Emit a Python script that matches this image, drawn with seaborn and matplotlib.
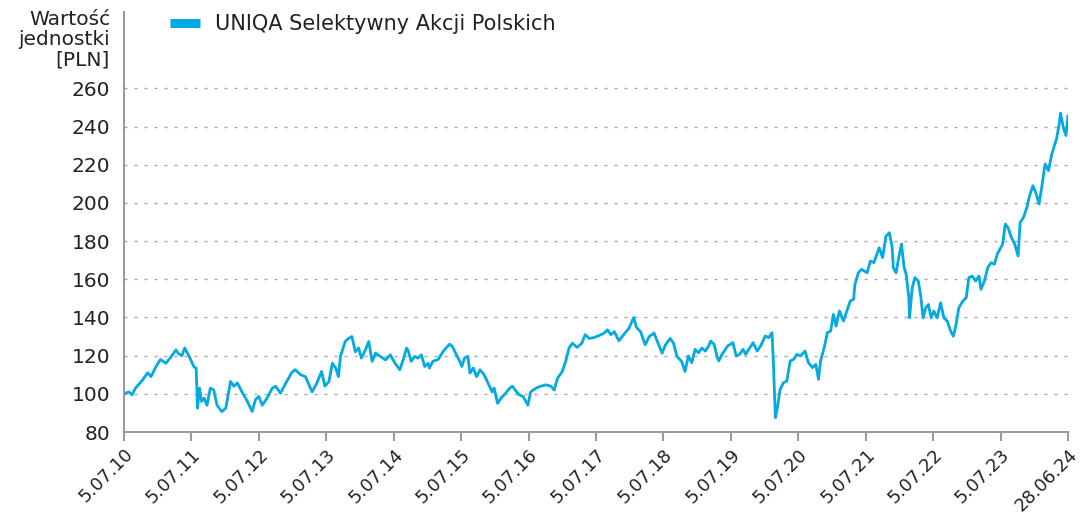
import numpy as np
import pandas as pd
import matplotlib
matplotlib.use('Agg')
import matplotlib.pyplot as plt
import seaborn as sns

# years since 5.07.2010
years_a = [0.00, 0.07, 0.12, 0.17, 0.27, 0.35, 0.40, 0.47, 0.54, 0.62,
           0.69, 0.77, 0.81, 0.86, 0.90, 0.96, 1.04, 1.07, 1.09, 1.12,
           1.15, 1.19, 1.23, 1.28, 1.33, 1.38, 1.45, 1.51, 1.58, 1.63,
           1.68, 1.75, 1.83, 1.90, 1.95, 2.00, 2.05, 2.12, 2.20, 2.25,
           2.32, 2.40, 2.49, 2.54, 2.62, 2.69, 2.79, 2.86, 2.93, 2.98,
           3.04, 3.09, 3.14, 3.18, 3.21, 3.28, 3.33, 3.38, 3.43, 3.48,
           3.52, 3.58, 3.63, 3.68, 3.73, 3.80, 3.88, 3.95, 4.02, 4.09]
values_a = [100, 101, 99.5, 103, 107, 111, 109, 114, 118, 116,
            119, 123, 121, 120, 124, 120, 114, 113.5, 92.5, 103,
            96, 97.7, 94, 103, 102, 94, 90.7, 92.5, 106.5, 104,
            105.7, 101, 96, 90.7, 97, 98.6, 94, 97.7, 103, 104,
            100.3, 105.6, 111.3, 112.6, 110, 109, 101, 105.6, 111.7, 104,
            106.5, 116, 113.5, 109, 119.6, 127.4, 129, 130, 122, 124,
            118.7, 123, 127.4, 117, 121.3, 119.6, 117.8, 120.4, 116, 112.6]

years_b = [4.14, 4.19, 4.21, 4.26, 4.31, 4.36, 4.41, 4.46, 4.51, 4.53,
           4.58, 4.66, 4.70, 4.75, 4.83, 4.87, 4.93, 4.98, 5.01, 5.05,
           5.10, 5.13, 5.18, 5.23, 5.28, 5.34, 5.41, 5.46, 5.49, 5.54,
           5.59, 5.66, 5.71, 5.76, 5.81, 5.86, 5.92, 5.99, 6.03, 6.11,
           6.18, 6.26, 6.33, 6.38, 6.43, 6.50, 6.55, 6.60, 6.65, 6.72,
           6.79, 6.84, 6.90, 6.97, 7.04, 7.12, 7.17, 7.22, 7.27, 7.34,
           7.41, 7.49, 7.56, 7.60, 7.66, 7.73, 7.79, 7.86, 7.91, 7.98,
           8.03, 8.10, 8.15, 8.20, 8.27, 8.32]
values_b = [117.8, 124, 123, 117, 119.6, 118.7, 120.4, 114.3, 116, 113.5,
            117, 118, 120.4, 123, 126, 124.8, 120.4, 117, 114.3, 118.7,
            119.6, 110.8, 113.5, 109, 112.6, 110, 104.7, 101, 103, 95,
            97.7, 100.3, 102.6, 104, 101.6, 99.5, 98.6, 94, 101, 103,
            104, 104.7, 104, 102, 108.2, 111.7, 117, 124, 126.5, 124.3,
            126.5, 131, 129, 129.5, 130.4, 131.8, 133.5, 131, 132.6, 127.8,
            131, 134.4, 140, 134.8, 132.6, 125.7, 130, 131.8, 127.4, 121.3,
            125.7, 129, 126.5, 119.6, 117, 111.7]

years_c = [8.37, 8.42, 8.47, 8.52, 8.57, 8.62, 8.67, 8.70, 8.75, 8.80,
           8.82, 8.87, 8.95, 9.03, 9.08, 9.13, 9.18, 9.22, 9.28, 9.33,
           9.39, 9.44, 9.51, 9.56, 9.61, 9.63, 9.66, 9.69, 9.73, 9.78,
           9.83, 9.88, 9.93, 9.98, 10.03, 10.10, 10.15, 10.21, 10.26, 10.30,
           10.33, 10.39, 10.43, 10.48, 10.52, 10.56, 10.61, 10.67, 10.72, 10.77,
           10.82, 10.84, 10.89, 10.94, 11.02, 11.07, 11.12, 11.20, 11.25, 11.30,
           11.35, 11.39, 11.41, 11.45]
values_c = [119.8, 116.3, 123.3, 121.5, 124, 122.4, 125, 127.6, 126, 119,
            117.2, 120.7, 125, 126.8, 119.8, 120.7, 123.3, 120.7, 124, 126.8,
            122.4, 125, 130.3, 129.4, 132, 117.2, 87.5, 92.7, 102.3, 105.8,
            106.7, 117.2, 118, 120.7, 119.8, 122.4, 116.3, 113.7, 115.4, 107.6,
            117.2, 125, 132, 132.9, 141.6, 135.5, 143.4, 138.1, 143.4, 148.6,
            149.5, 157.3, 163.4, 165.2, 163.4, 169.5, 168.7, 176.5, 171.3, 182.6,
            184.4, 177.4, 166, 163.4]

years_d = [11.49, 11.53, 11.57, 11.60, 11.64, 11.65, 11.69, 11.73, 11.78, 11.82,
           11.85, 11.89, 11.93, 11.97, 12.01, 12.06, 12.11, 12.16, 12.21, 12.26,
           12.30, 12.34, 12.38, 12.44, 12.49, 12.53, 12.58, 12.63, 12.68, 12.71,
           12.76, 12.81, 12.86, 12.91, 12.95, 12.99, 13.03, 13.07, 13.11, 13.16,
           13.21, 13.26, 13.29, 13.34, 13.39, 13.43, 13.48, 13.53, 13.57, 13.61,
           13.66, 13.71, 13.76, 13.79, 13.83, 13.87, 13.89, 13.93, 13.97, 14.0]
values_d = [171.4, 178.4, 166, 162.6, 150.3, 139.8, 155.6, 160.9, 159.1, 150.3,
            139.8, 145, 146.8, 139.8, 143.3, 139.8, 147.7, 139.8, 138, 132.8,
            130.2, 136.3, 145, 148.6, 150.3, 160.9, 161.7, 159.1, 161.7, 154.7,
            159.1, 166.1, 168.7, 167.9, 173.1, 175.7, 178.4, 188.9, 187.1, 181.9,
            178.4, 172.2, 189.7, 192.4, 197.6, 203.7, 209, 204.6, 199.4, 208.1,
            220.4, 216.9, 225.6, 229.1, 233.5, 241.4, 247, 239.6, 235.3, 245.8]

tick_labels = ['5.07.10', '5.07.11', '5.07.12', '5.07.13', '5.07.14', '5.07.15',
               '5.07.16', '5.07.17', '5.07.18', '5.07.19', '5.07.20', '5.07.21',
               '5.07.22', '5.07.23', '28.06.24']
series_name = 'UNIQA Selektywny Akcji Polskich'

df = pd.DataFrame({
    't': years_a + years_b + years_c + years_d,
    'value': values_a + values_b + values_c + values_d,
})

sns.set_style('white')
plt.rcParams['font.family'] = ['DejaVu Sans']

fig = plt.figure(figsize=(10.85, 5.13), dpi=100)
ax = fig.add_axes([124 / 1085, 1 - 432 / 513, (1068 - 124) / 1085, (432 - 12) / 513])

sns.lineplot(data=df, x='t', y='value', color='#00a9df', linewidth=2,
             label=series_name, ax=ax)

ax.set_xlim(0, 14)
ax.set_ylim(80, 300)
ax.set_yticks(range(80, 261, 20))
ax.set_xticks(range(15))
ax.set_xticklabels(tick_labels, rotation=45, ha='right', va='top',
                   rotation_mode='anchor')
ax.set_xlabel('')
ax.set_ylabel('')

for y in range(100, 261, 20):
    ax.axhline(y, color='#a8a8a8', linewidth=1, linestyle=(0, (2.2, 5)), zorder=0)

for side in ['top', 'right']:
    ax.spines[side].set_visible(False)
for side in ['left', 'bottom']:
    ax.spines[side].set_color('#9a9a9a')
    ax.spines[side].set_linewidth(1.5)

ax.tick_params(axis='x', length=6.5, width=1.5, color='#9a9a9a', pad=3,
               labelsize=13, labelcolor='#222222', direction='out', bottom=True)
ax.tick_params(axis='y', length=0, pad=10, labelsize=14.5, labelcolor='#222222')

fig.text(110 / 1085, 1 - 10 / 513, 'Wartość\njednostki\n[PLN]', ha='right', va='top',
         fontsize=14.5, color='#222222', linespacing=1.08)

leg = ax.legend(loc='upper left', bbox_to_anchor=(170 / 1085, 1 - 14 / 513),
                bbox_transform=fig.transFigure, frameon=False, fontsize=15,
                handlelength=1.45, handletextpad=0.7, borderpad=0, borderaxespad=0)
for line in leg.get_lines():
    line.set_linewidth(6.5)
    line.set_solid_capstyle('butt')
for txt in leg.get_texts():
    txt.set_color('#222222')

fig.savefig('out.png', dpi=100)
plt.close()
